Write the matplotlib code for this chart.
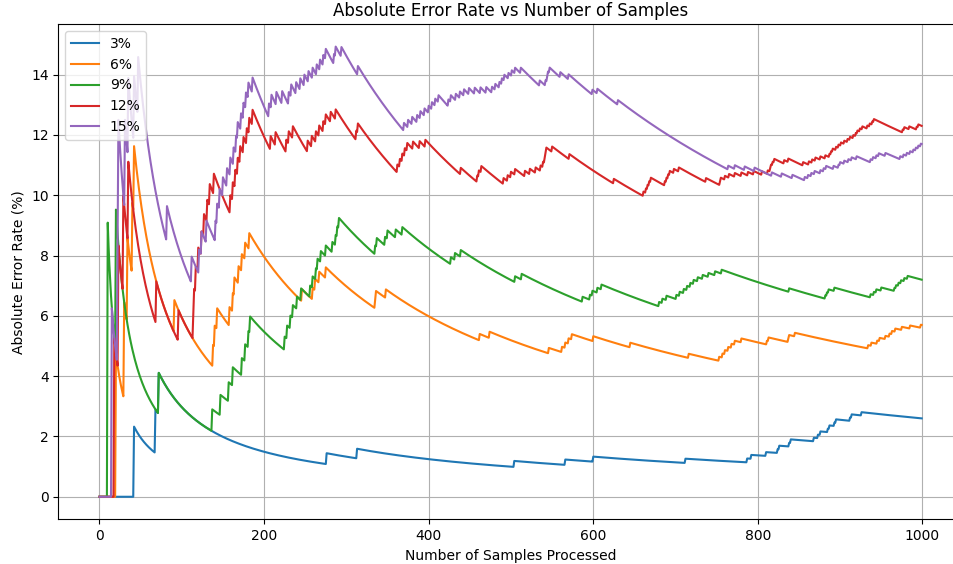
import numpy as np
import matplotlib
matplotlib.use("Agg")
import matplotlib.pyplot as plt

# samples processed (0-based index on the x axis)
N_SAMPLES = 1000
labels = ["3%", "6%", "9%", "12%", "15%"]

# sample indices at which an error was counted
errors_3 = [42, 68, 72, 276, 313, 504, 566, 600, 712, 787, 792, 810, 824, 826,
            838, 840, 868, 873, 876, 885, 887, 893, 895, 912, 914, 926]

errors_6 = [20, 30, 34, 40, 42, 91, 138, 140, 143, 158, 162, 164, 169, 173, 177,
            182, 246, 259, 262, 267, 275, 335, 336, 348, 462, 474, 546, 562, 566,
            570, 574, 600, 645, 716, 753, 757, 760, 764, 768, 772, 780, 811, 813,
            837, 838, 845, 934, 938, 945, 948, 955, 960, 963, 967, 975, 985, 998]

errors_9 = [10, 20, 72, 137, 147, 157, 162, 173, 177, 181, 183, 225, 228, 232,
            235, 240, 245, 256, 259, 263, 265, 269, 275, 283, 287, 289, 291, 335,
            337, 347, 350, 360, 368, 427, 432, 439, 505, 513, 587, 596, 599, 605,
            610, 680, 684, 689, 701, 705, 710, 714, 718, 722, 727, 733, 740, 748,
            756, 838, 882, 884, 886, 893, 937, 941, 944, 950, 966, 968, 971, 974,
            978, 982]

errors_12 = [18, 23, 29, 35, 69, 96, 114, 115, 117, 120, 124, 127, 131, 134, 139,
             159, 162, 165, 168, 171, 175, 179, 182, 186, 208, 214, 227, 230, 235,
             253, 258, 263, 267, 272, 275, 281, 287, 312, 314, 362, 365, 368, 371,
             374, 381, 389, 396, 439, 459, 461, 464, 491, 496, 500, 505, 517, 523,
             530, 536, 539, 541, 542, 543, 550, 571, 625, 661, 664, 666, 668, 670,
             687, 689, 691, 693, 698, 704, 737, 754, 755, 760, 765, 772, 780, 788,
             795, 805, 812, 815, 816, 818, 820, 832, 837, 855, 862, 866, 870, 876,
             882, 887, 889, 891, 895, 898, 901, 905, 909, 912, 916, 919, 921, 924,
             927, 933, 936, 939, 941, 976, 978, 984, 993, 995]

errors_15 = [15, 22, 23, 31, 35, 42, 47, 82, 112, 121, 124, 130, 141, 143, 146,
             150, 155, 159, 163, 166, 168, 172, 175, 178, 181, 186, 206, 209, 215,
             222, 230, 233, 239, 244, 249, 254, 259, 264, 268, 272, 275, 285, 287,
             294, 314, 370, 375, 380, 386, 390, 395, 400, 404, 408, 412, 424, 427,
             433, 438, 443, 449, 456, 463, 470, 477, 481, 486, 489, 492, 497, 501,
             505, 512, 535, 542, 544, 545, 547, 560, 570, 599, 605, 630, 764, 772,
             784, 796, 817, 829, 842, 857, 861, 865, 869, 876, 880, 883, 892, 898,
             900, 905, 910, 914, 920, 937, 940, 944, 947, 955, 973, 977, 981, 985,
             989, 992, 995, 998]


def running_rate(events):
    """Cumulative error count divided by samples seen, in percent."""
    flags = np.zeros(N_SAMPLES)
    flags[events] = 1
    return 100 * np.cumsum(flags) / np.arange(1, N_SAMPLES + 1)


samples = np.arange(N_SAMPLES)
series = [errors_3, errors_6, errors_9, errors_12, errors_15]

fig = plt.figure(figsize=(9.54, 5.64), dpi=100)
# the original plot runs past the right edge of the image
ax = fig.add_axes([0.0612, 0.0793, 0.948, 0.878])

for events, label in zip(series, labels):
    ax.plot(samples, running_rate(events), label=label)

ax.set_title("Absolute Error Rate vs Number of Samples")
ax.set_xlabel("Number of Samples Processed")
ax.set_ylabel("Absolute Error Rate (%)")
ax.grid(True)
ax.spines["right"].set_visible(False)
ax.legend(loc="upper left")

fig.savefig("out.png", dpi=100)
